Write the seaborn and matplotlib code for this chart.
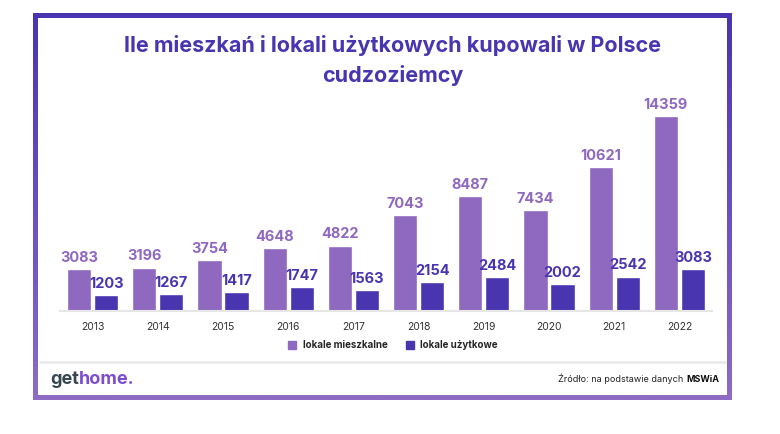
import numpy as np
import pandas as pd
import matplotlib
matplotlib.use("Agg")
import matplotlib.pyplot as plt
import seaborn as sns
from matplotlib.patches import Rectangle
from matplotlib.lines import Line2D
from matplotlib.colors import LinearSegmentedColormap

years = ["2013", "2014", "2015", "2016", "2017", "2018", "2019", "2020", "2021", "2022"]
mieszkalne = [3083, 3196, 3754, 4648, 4822, 7043, 8487, 7434, 10621, 14359]
uzytkowe = [1203, 1267, 1417, 1747, 1563, 2154, 2484, 2002, 2542, 3083]
series_names = ["lokale mieszkalne", "lokale użytkowe"]
title = "Ile mieszkań i lokali użytkowych kupowali w Polsce\ncudzoziemcy"

C_LIGHT = "#8f68bf"
C_DARK = "#4a35b0"

sns.set_theme(style="white")
FONT = ["Inter", "DejaVu Sans"]
plt.rcParams["font.family"] = FONT

W, H = 780, 434
fig = plt.figure(figsize=(W / 100, H / 100), dpi=100)
fig.patch.set_facecolor("white")

def fx(px):
    return px / W

def fy(py):
    return 1 - py / H

# Frame with vertical gradient
bg = fig.add_axes([0, 0, 1, 1], zorder=-10)
bg.axis("off")
cmap = LinearSegmentedColormap.from_list("fr", [C_DARK, "#6a4fc0", "#8e6cc4"])
grad = np.linspace(0, 1, 256).reshape(-1, 1)
bg.imshow(grad, cmap=cmap, extent=[33, 732, 400, 13], aspect="auto", zorder=0)
bg.add_patch(Rectangle((38, 18), 732 - 5 - 38, 395 - 18, facecolor="white", edgecolor="none", zorder=1))
bg.plot([40, 725], [362, 362], color="#e8e8e8", lw=1.8, zorder=2)
bg.set_xlim(0, W)
bg.set_ylim(H, 0)

# Main axes
ax_left, ax_right = 60, 712
base_y, top_y = 311, 94
ax = fig.add_axes([fx(ax_left), fy(base_y), (ax_right - ax_left) / W, (base_y - top_y) / H])
ax.patch.set_alpha(0)

df = pd.DataFrame({
    "year": years * 2,
    "value": mieszkalne + uzytkowe,
    "series": [series_names[0]] * len(years) + [series_names[1]] * len(years),
})
sns.barplot(data=df, x="year", y="value", hue="series", palette=[C_LIGHT, C_DARK],
            width=0.83, gap=0.11, ax=ax, legend=False, saturation=1)

for cont, col in zip(ax.containers, [C_LIGHT, C_DARK]):
    ax.bar_label(cont, labels=[str(int(v)) for v in cont.datavalues], padding=3,
                 color=col, fontsize=10.5, fontweight="bold")

ax.set_ylim(0, 16000)
ax.set_xlim(-0.5, len(years) - 0.5)
ax.set_xlabel("")
ax.set_ylabel("")
ax.set_yticks([])
for s in ["top", "right", "left"]:
    ax.spines[s].set_visible(False)
ax.spines["bottom"].set_color("#e6e6e6")
ax.spines["bottom"].set_linewidth(1.5)
ax.tick_params(axis="x", length=0, pad=8, labelsize=7.5, labelcolor="#333333")

# Title
fig.text(fx(393), fy(60.5), title, ha="center", va="center", fontsize=15.5,
         fontweight="bold", color=C_DARK, linespacing=1.5)

# Legend
handles = [Line2D([], [], marker="s", ls="none", markersize=5.5, color=c) for c in [C_LIGHT, C_DARK]]
fig.legend(handles, series_names, loc="center", bbox_to_anchor=(fx(390), fy(345)), ncol=2,
           frameon=False, handletextpad=0.1, columnspacing=1.3,
           prop={"weight": "bold", "size": 7, "family": FONT})

# Logo
fig.canvas.draw()
r = fig.canvas.get_renderer()
t1 = fig.text(fx(50), fy(379), "get", ha="left", va="center", fontsize=13, fontweight="bold", color="#37474f")
bb = t1.get_window_extent(r)
fig.text(bb.x1 / W, fy(379), "home.", ha="left", va="center", fontsize=13, fontweight="bold", color="#7c4dcf")

# Source
t2 = fig.text(fx(719), fy(379), "MSWiA", ha="right", va="center", fontsize=6.5, fontweight="bold", color="#111111")
bb2 = t2.get_window_extent(r)
fig.text(bb2.x0 / W, fy(379), "Źródło: na podstawie danych ", ha="right", va="center", fontsize=6.5, color="#222222")

fig.savefig("out.png", dpi=100, facecolor="white")
